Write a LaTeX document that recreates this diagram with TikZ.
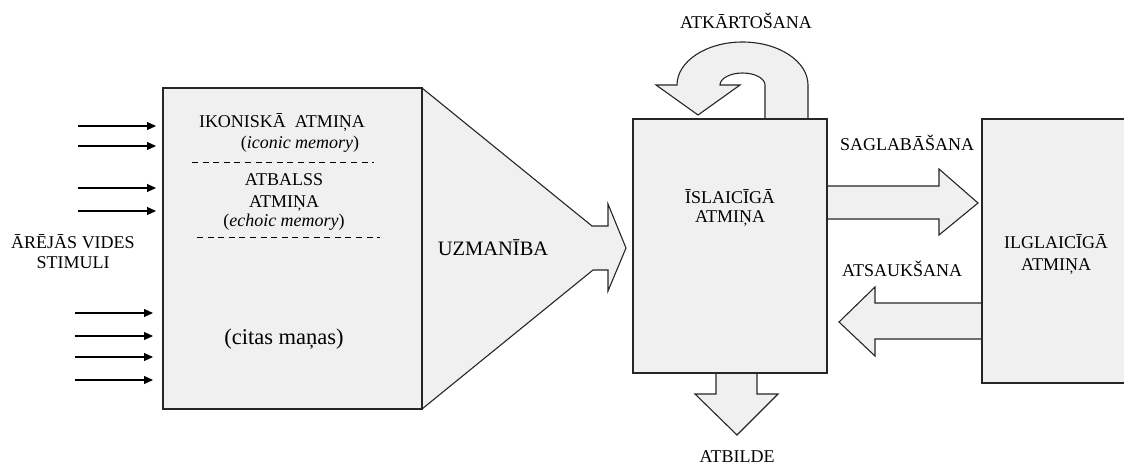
\documentclass[tikz,border=0pt]{standalone}
\usepackage{fontspec}
\setmainfont{Liberation Serif}
\usetikzlibrary{arrows.meta}
\begin{document}
\begin{tikzpicture}[x=1pt,y=-1pt,
  blk/.style={draw=black!85, line width=1.1pt, fill=black!6, line join=miter},
  boxnode/.style={blk, inner sep=0pt},
  lbl/.style={font=\fontsize{18}{20}\selectfont, inner sep=0pt, anchor=base},
  bigl/.style={font=\fontsize{20.5}{24}\selectfont, inner sep=0pt, anchor=base},
  stim/.style={line width=1.1pt, -{Triangle[length=9pt,width=8pt]}},
  sep/.style={line width=1pt, dash pattern=on 6pt off 4.6pt}]
\useasboundingbox (0,0) rectangle (1124,466);

% funnel (attention)
\filldraw[blk] (422,88) -- (592,226) -- (608,226) -- (608,204) -- (626,248)
  -- (608,291) -- (608,270) -- (593,270) -- (422,409);
% sensory memory box
\node[boxnode, minimum width=259pt, minimum height=321pt] (sens) at (292.5,248.5) {};

% arrows attached to short-term memory
\filldraw[blk] (808,125) -- (808,85)
  .. controls (808,61.3) and (778.7,42) .. (742.5,42)
  .. controls (706.3,42) and (677,61.3) .. (677,85)
  -- (656,85) -- (698,115) -- (740,85) -- (720,85)
  .. controls (720,78.4) and (730.1,73) .. (742.5,73)
  .. controls (754.9,73) and (765,78.4) .. (765,85)
  -- (765,125) -- cycle;
\filldraw[blk] (820,186) -- (939,186) -- (939,169) -- (978,203) -- (939,235)
  -- (939,219) -- (820,219) -- cycle;
\filldraw[blk] (716,365) -- (716,394) -- (695,394) -- (737,435) -- (778,394)
  -- (757,394) -- (757,365) -- cycle;
\filldraw[blk] (990,303) -- (875,303) -- (875,287) -- (839,322) -- (875,356)
  -- (875,339) -- (990,339) -- cycle;

% short-term memory box
\node[boxnode, minimum width=194pt, minimum height=254pt] (stm) at (730,246) {};
% long-term memory box (runs off the right edge)
\fill[black!6] (982,119) rectangle (1124,383);
\draw[line width=1.1pt, draw=black!85] (1124,119) -- (982,119) -- (982,383) -- (1124,383);

% stimulus arrows
\coordinate (s1a) at (78,126);  \coordinate (s1b) at (156,126);
\coordinate (s2a) at (78,146);  \coordinate (s2b) at (156,146);
\coordinate (s3a) at (78,188);  \coordinate (s3b) at (156,188);
\coordinate (s4a) at (78,211);  \coordinate (s4b) at (156,211);
\coordinate (s5a) at (75,313);  \coordinate (s5b) at (153,313);
\coordinate (s6a) at (75,336);  \coordinate (s6b) at (153,336);
\coordinate (s7a) at (75,357);  \coordinate (s7b) at (153,357);
\coordinate (s8a) at (75,380);  \coordinate (s8b) at (153,380);
\foreach \i in {1,...,8} \draw[stim] (s\i a) -- (s\i b);

% texts
\node[lbl] (ext1) at (73,248) {ĀRĒJĀS VIDES};
\node[lbl] (ext2) at (73,268) {STIMULI};

\node[lbl] (ic1) at (282,127) {IKONISKĀ\ \ ATMIŅA};
\node[lbl] (ic2) at (300,148) {(\textit{iconic memory})};
\draw[sep] (192,162) -- (374,162);
\node[lbl] (ec1) at (284,185) {ATBALSS};
\node[lbl] (ec2) at (284,207) {ATMIŅA};
\node[lbl] (ec3) at (284,226) {(\textit{echoic memory})};
\draw[sep] (197,237) -- (380,237);
\node[font=\fontsize{22.5}{26}\selectfont, inner sep=0pt, anchor=base] (oth) at (284,344) {(citas maņas)};

\node[bigl] (att) at (493,255) {UZMANĪBA};

\node[lbl] (stm1) at (730,203) {ĪSLAICĪGĀ};
\node[lbl] (stm2) at (730,222) {ATMIŅA};
\node[lbl] (reh) at (746,28.5) {ATKĀRTOŠANA};
\node[lbl] (sto) at (907,150) {SAGLABĀŠANA};
\node[lbl] (ret) at (902,276) {ATSAUKŠANA};
\node[lbl] (resp) at (737,462) {ATBILDE};
\node[lbl] (ltm1) at (1056,248.5) {ILGLAICĪGĀ};
\node[lbl] (ltm2) at (1056,270) {ATMIŅA};
\end{tikzpicture}
\end{document}
